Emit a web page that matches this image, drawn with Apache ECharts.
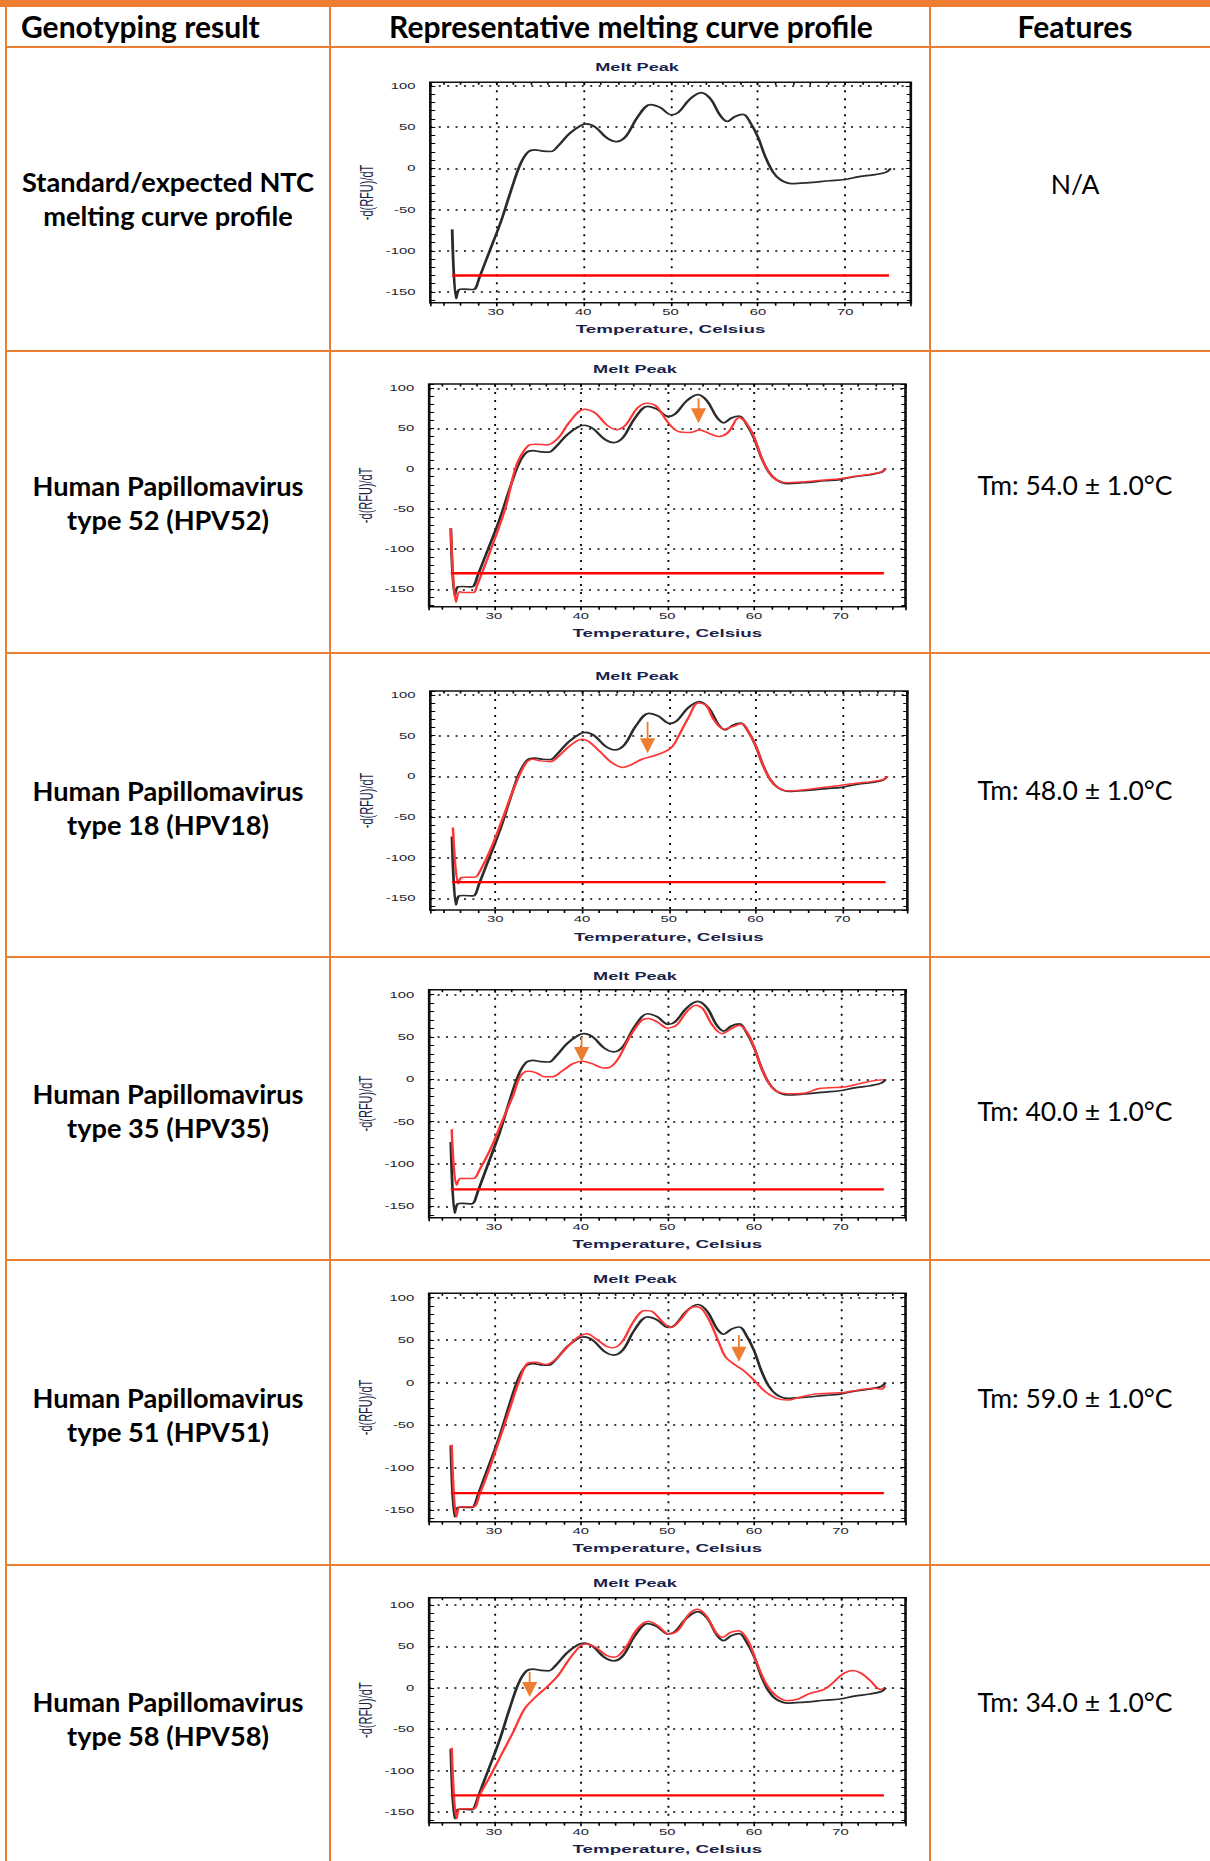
<!DOCTYPE html>
<html>
<head>
<meta charset="utf-8">
<title>HPV genotyping – melting curve profiles</title>
<script src="https://cdn.jsdelivr.net/npm/echarts@6/dist/echarts.min.js"></script>
<style>
html,body{margin:0;padding:0;background:#fff;}
#page{position:relative;width:1210px;height:1861px;overflow:hidden;background:#fff;}
.band{position:absolute;left:0;top:0;width:1210px;height:7px;background:#ED7D31;}
.hl{position:absolute;left:5px;width:1205px;height:2px;background:#ED7D31;}
.vl{position:absolute;top:0;height:1861px;width:2px;background:#ED7D31;}
.txt{position:absolute;white-space:nowrap;color:#000;font-family:Lato,"Open Sans",sans-serif;line-height:1;}
.chart{position:absolute;left:331px;transform-origin:0 0;}
</style>
</head>
<body>
<div id="page"></div>
<script>
// ---------------- DATA ----------------
const headers = ["Genotyping result", "Representative melting curve profile", "Features"];
const genotypes = [
  ["Standard/expected NTC", "melting curve profile"],
  ["Human Papillomavirus", "type 52 (HPV52)"],
  ["Human Papillomavirus", "type 18 (HPV18)"],
  ["Human Papillomavirus", "type 35 (HPV35)"],
  ["Human Papillomavirus", "type 51 (HPV51)"],
  ["Human Papillomavirus", "type 58 (HPV58)"]
];
const features = ["N/A", "Tm: 54.0 ± 1.0°C", "Tm: 48.0 ± 1.0°C", "Tm: 40.0 ± 1.0°C", "Tm: 59.0 ± 1.0°C", "Tm: 34.0 ± 1.0°C"];
const chartTitle = "Melt Peak";
const xAxisTitle = "Temperature, Celsius";
const yAxisTitle = "-d(RFU)/dT";
const thresholdValue = -130;
const thresholdRange = [25, 75];

// NTC (black) reference curve: [temperature, -d(RFU)/dT]
const ntcCurve = [[25.0,-74],[25.45,-158],[25.8,-147],[26.3,-146.5],[27.4,-147],[27.7,-145],[28.1,-133],[29.3,-100],[30.6,-64],[31.7,-28],[32.8,5],[33.7,20],[34.5,22.5],[35.4,21],[36.3,20.5],[37.1,27],[38.4,42],[39.7,52],[40.4,54],[41.4,50],[42.7,37],[43.8,32.5],[44.9,39],[46.2,62],[47.7,77.5],[48.8,74],[50.1,65],[50.9,68],[52.2,84],[53.5,92],[54.6,84],[55.7,64],[56.5,57],[57.4,63],[58.3,65.5],[59.1,56],[60.0,38],[60.85,14],[61.7,-4],[62.6,-14],[63.9,-18.5],[65.6,-17.5],[68.2,-15],[69.9,-13.5],[71.6,-10],[73.4,-7.5],[74.7,-4.5],[75.2,0]];

const hpv52Curve = [[25.0,-74],[25.6,-166],[26.0,-153],[26.5,-154],[27.6,-154],[28.0,-146],[29.6,-101],[31.3,-49],[32.6,5],[33.9,28.5],[34.8,30.5],[36.1,29.5],[37.4,38],[38.7,58],[40.4,74],[41.7,69],[43.0,54.5],[44.1,48.5],[45.2,54.5],[46.5,75],[47.6,81.5],[48.7,78],[50.0,58.5],[51.3,46],[52.6,45],[53.7,48],[54.8,44],[55.9,40],[57.0,45],[58.3,63.5],[59.1,57],[60.0,40],[60.85,14],[61.7,-4],[62.6,-14],[63.9,-17.5],[65.6,-16.5],[68.2,-14],[69.9,-12.5],[71.6,-9.5],[73.4,-7],[74.7,-4],[75.2,0]];

const hpv18Curve = [[25.1,-63],[25.7,-132],[26.0,-125],[26.5,-124],[27.6,-124],[28.3,-115],[29.6,-86],[30.9,-50],[32.2,-13],[33.5,16],[34.3,21],[35.2,19],[36.3,18],[37.4,26],[38.7,38.5],[40.0,45.5],[40.8,42.5],[42.1,30],[43.4,17],[44.7,11],[45.8,15],[46.9,21],[48.2,25],[49.5,30],[50.4,36.5],[51.2,51],[52.3,73],[53.4,90],[54.3,87.5],[55.1,71],[56.4,58],[57.3,61],[58.4,65],[59.1,56],[60.0,38],[60.85,14],[61.7,-4],[62.6,-14],[63.9,-18],[65.6,-16.5],[68.2,-13],[69.9,-11],[71.6,-8.5],[73.4,-6.5],[74.7,-4],[75.2,0]];

const hpv35Curve = [[25.1,-59],[25.65,-125],[26.1,-117],[26.5,-117],[27.6,-117],[28.3,-107],[29.6,-82],[30.9,-50],[32.2,-19],[33.0,3],[33.9,9.5],[34.8,8],[35.9,3],[36.7,3],[37.8,9.5],[39.1,18.5],[40.2,21.5],[41.3,18.5],[42.6,13.5],[43.3,14],[44.3,24],[45.65,50],[47.0,69.5],[47.8,72],[48.9,67.5],[50.0,60.5],[51.1,64.5],[52.2,79.5],[53.3,87.5],[54.1,83.5],[55.2,64],[56.3,54],[57.4,60],[58.3,64],[59.3,54],[60.0,38],[60.85,14],[61.7,-4],[62.6,-14],[64.3,-17],[66.0,-16],[67.4,-11],[68.7,-10],[70.4,-9],[72.2,-5],[73.9,-1.5],[75.0,-0.5]];

const hpv51Curve = [[25.1,-73],[25.65,-158],[26.1,-146],[27.6,-146],[28.3,-132],[29.6,-97],[31.7,-34],[33.0,5],[33.9,23],[34.8,24],[35.9,21.5],[37.0,26.5],[38.3,40.5],[39.6,53],[40.7,57.5],[41.7,52],[43.0,42.5],[43.7,41],[44.8,48.5],[46.1,72],[47.4,85],[48.3,83.5],[49.4,72],[50.4,65],[51.5,74],[52.6,87.5],[53.4,89.5],[54.1,85.5],[55.0,70],[55.9,48.5],[56.7,30.5],[57.8,21],[58.7,15],[60.0,3],[61.3,-10.5],[62.6,-18.5],[63.9,-20.5],[65.2,-17.5],[67.0,-13.5],[68.7,-12.5],[70.4,-11.5],[72.2,-8.5],[73.9,-6.5],[74.8,-7.5],[75.1,-3]];

const hpv58Curve = [[25.1,-72.5],[25.67,-158],[26.1,-146],[27.6,-146],[28.3,-130],[29.6,-105.5],[30.9,-79.5],[32.2,-53.5],[33.5,-25.5],[34.8,-11],[36.1,1],[37.4,15],[38.7,35],[40.0,51],[40.6,53],[41.7,49],[43.0,39],[43.9,37],[45.2,49],[46.5,71],[47.8,80.5],[48.9,75],[50.2,65],[51.2,69],[52.5,89],[53.5,95],[54.5,87],[55.6,67],[56.4,61],[57.3,67],[58.2,69],[59.3,57],[60.3,31],[61.4,5],[62.5,-9],[63.8,-15.5],[65.1,-13.5],[66.4,-7],[68.1,-2],[69.0,5],[70.3,17],[71.4,21],[72.3,18],[73.4,9],[74.6,-2],[75.0,-0.5]];

const sampleCurves = [null, hpv52Curve, hpv18Curve, hpv35Curve, hpv51Curve, hpv58Curve];
// arrow annotations: [temperature, start value, tip value]
const arrowMarks = [null, [53.6, 87.5, 56.5], [47.55, 67, 28.5], [40.1, 50, 20.5], [58.26, 56, 24.5], [34.1, 19, -11]];
// y-axis extents of each panel
const yExtents = [[-163, 104.5], [-171.6, 105.3], [-164.3, 104.9], [-163.4, 105.9], [-163.7, 105.2], [-162.9, 108.8]];
const xExtent = [22.5, 77.5];

// ---------------- LAYOUT / STYLE ----------------
const ORANGE = '#ED7D31';
const STRETCH = 1.65;       // charts are stretched horizontally like the pasted screenshots
const CHART_W = 598;        // full-pixel width of the chart cell
const hLines = [47, 351, 653, 957, 1260, 1565];
const vLines = [6, 330, 930];
const panelLayout = [
  {top: 48,   h: 302, grid: [60.2, 34.3, 291.2, 220.4], title: [185.5, 19.3]},
  {top: 352,  h: 300, grid: [59.5, 32.0, 288.7, 222.7], title: [184.2, 17.3]},
  {top: 654,  h: 302, grid: [60.2, 37.0, 289.1, 219.0], title: [185.5, 22.0]},
  {top: 958,  h: 301, grid: [59.5, 31.7, 288.7, 228.0], title: [184.2, 18.0]},
  {top: 1261, h: 303, grid: [59.5, 32.3, 288.7, 228.4], title: [184.2, 18.0]},
  {top: 1566, h: 295, grid: [59.5, 31.7, 288.7, 225.0], title: [184.2, 16.7]}
];
const genoLineY = [[181.7, 216.2], [485.6, 520.1], [790.8, 825.3], [1093.6, 1128.1], [1397.6, 1432.1], [1701.6, 1736.1]];
const featureY = [184, 484.5, 789.6, 1111, 1397.6, 1701.6];

const page = document.getElementById('page');
function el(cls, css) {
  const d = document.createElement('div');
  d.className = cls;
  Object.assign(d.style, css);
  page.appendChild(d);
  return d;
}
function fitSize(text, weight, target) {
  const ctx = document.createElement('canvas').getContext('2d');
  ctx.font = weight + ' 100px Lato';
  return 100 * target / ctx.measureText(text).width;
}
const boldSize = fitSize(genotypes[0][0], 'bold', 292);
const headSize = fitSize(headers[1], 'bold', 484);
const regSize = fitSize(features[1], 'normal', 195);

// table rules
el('band', {});
hLines.forEach(y => el('hl', {top: (y - 1) + 'px'}));
vLines.forEach(x => el('vl', {left: (x - 1) + 'px'}));

function addText(text, x, y, size, weight, align) {
  const d = el('txt', {
    left: x + 'px', top: y + 'px', fontSize: size.toFixed(2) + 'px', fontWeight: weight,
    transform: align === 'left' ? 'translate(0,-50%)' : 'translate(-50%,-50%)'
  });
  d.textContent = text;
}
addText(headers[0], 21, 26, headSize, 'bold', 'left');
addText(headers[1], 631, 26, headSize, 'bold', 'center');
addText(headers[2], 1075, 26, headSize, 'bold', 'center');
genotypes.forEach((g, i) => {
  addText(g[0], 168, genoLineY[i][0], boldSize, 'bold', 'center');
  addText(g[1], 168, genoLineY[i][1], boldSize, 'bold', 'center');
  addText(features[i], 1075, featureY[i], regSize, 'normal', 'center');
});

// ---------------- CHARTS ----------------
const NAVY = '#1b1f4a';
const isMult = (v, m) => Math.abs(v / m - Math.round(v / m)) < 1e-6;

function renderArrow(params, api) {
  const x = api.value(0);
  const p0 = api.coord([x, api.value(1)]);
  const p1 = api.coord([x, api.value(2)]);
  const hw = 4.6, hh = 15;
  return {
    type: 'group',
    children: [
      {type: 'line', shape: {x1: p0[0], y1: p0[1], x2: p1[0], y2: p1[1] - hh + 1},
       style: {stroke: ORANGE, lineWidth: 1.1}},
      {type: 'polygon', shape: {points: [[p1[0] - hw, p1[1] - hh], [p1[0] + hw, p1[1] - hh], [p1[0], p1[1]]]},
       style: {fill: ORANGE}}
    ]
  };
}

function buildOption(i) {
  const L = panelLayout[i];
  const [ymin, ymax] = yExtents[i];
  const labelStyle = {fontSize: 9, color: '#1e1e2e', fontFamily: '"Liberation Sans", Arial, sans-serif'};
  const hiddenLine = {show: false, onZero: false};
  const series = [
    {type: 'line', data: ntcCurve, smooth: 0.35, showSymbol: false, silent: true,
     lineStyle: {color: '#2b2b2b', width: 1.7}, z: 3}
  ];
  if (sampleCurves[i]) {
    series.push({type: 'line', data: sampleCurves[i], smooth: 0.35, showSymbol: false, silent: true,
      lineStyle: {color: '#ff3434', width: 1.5}, z: 4});
  }
  series.push({type: 'line', data: [[thresholdRange[0], thresholdValue], [thresholdRange[1], thresholdValue]],
    showSymbol: false, silent: true, lineStyle: {color: '#ff0000', width: 2.3}, z: 5});
  if (arrowMarks[i]) {
    series.push({type: 'custom', data: [arrowMarks[i]], renderItem: renderArrow,
      encode: {x: 0, y: [1, 2]}, z: 6, silent: true});
  }
  return {
    animation: false,
    backgroundColor: 'transparent',
    grid: {left: L.grid[0], top: L.grid[1], width: L.grid[2], height: L.grid[3],
      show: true, borderColor: '#111', borderWidth: 1.6, containLabel: false, outerBoundsMode: 'none'},
    graphic: [{type: 'text', x: L.title[0], y: L.title[1],
      style: {text: chartTitle, font: 'bold 11px "Liberation Sans", Arial, sans-serif', fill: NAVY,
        align: 'center', verticalAlign: 'middle'}}],
    xAxis: [
      {type: 'value', min: xExtent[0], max: xExtent[1], position: 'bottom',
       axisLine: hiddenLine,
       axisTick: {show: true, inside: false, length: 3.5, lineStyle: {color: '#000', width: 1}},
       minorTick: {show: true, splitNumber: 5, length: 3, lineStyle: {color: '#000', width: 1}},
       axisLabel: Object.assign({margin: 5, formatter: v => isMult(v, 10) ? String(v) : ''}, labelStyle),
       splitLine: {show: true, showMinLine: false, showMaxLine: false,
         lineStyle: {color: '#000', width: 1.1, type: [2, 6]}},
       name: xAxisTitle, nameLocation: 'middle', nameGap: 21, nameMoveOverlap: false,
       nameTextStyle: {fontSize: 11.4, fontWeight: 'bold', color: NAVY, fontFamily: '"Liberation Sans", Arial, sans-serif'}},
      {type: 'value', min: xExtent[0], max: xExtent[1], position: 'top',
       axisLine: hiddenLine, axisLabel: {show: false}, splitLine: {show: false},
       axisTick: {show: true, inside: true, length: 3, lineStyle: {color: '#000'}},
       minorTick: {show: true, splitNumber: 5, length: 2.5, lineStyle: {color: '#000'}}}
    ],
    yAxis: [
      {type: 'value', min: ymin, max: ymax, position: 'left',
       axisLine: hiddenLine,
       axisTick: {show: true, inside: true, length: 3, lineStyle: {color: '#000'}},
       minorTick: {show: true, splitNumber: 5, length: 3, lineStyle: {color: '#000'}},
       axisLabel: Object.assign({margin: 9, formatter: v => isMult(v, 50) ? String(v) : ''}, labelStyle),
       splitLine: {show: true, showMinLine: false, showMaxLine: false,
         lineStyle: {color: '#000', width: 1.5, type: [1.2, 3.9]}},
       name: yAxisTitle, nameLocation: 'middle', nameGap: 33, nameRotate: 90, nameMoveOverlap: false,
       nameTextStyle: {fontSize: 11, color: NAVY, fontFamily: '"Liberation Sans", Arial, sans-serif'}},
      {type: 'value', min: ymin, max: ymax, position: 'right',
       axisLine: hiddenLine, axisLabel: {show: false}, splitLine: {show: false},
       axisTick: {show: true, inside: true, length: 3, lineStyle: {color: '#000'}},
       minorTick: {show: true, splitNumber: 5, length: 2.5, lineStyle: {color: '#000'}}}
    ],
    series: series
  };
}

panelLayout.forEach((L, i) => {
  const d = el('chart', {
    top: L.top + 'px', width: (CHART_W / STRETCH).toFixed(2) + 'px', height: L.h + 'px',
    transform: 'scaleX(' + STRETCH + ')'
  });
  const chart = echarts.init(d, null, {renderer: 'svg'});
  chart.setOption(buildOption(i));
});
</script>
</body>
</html>
